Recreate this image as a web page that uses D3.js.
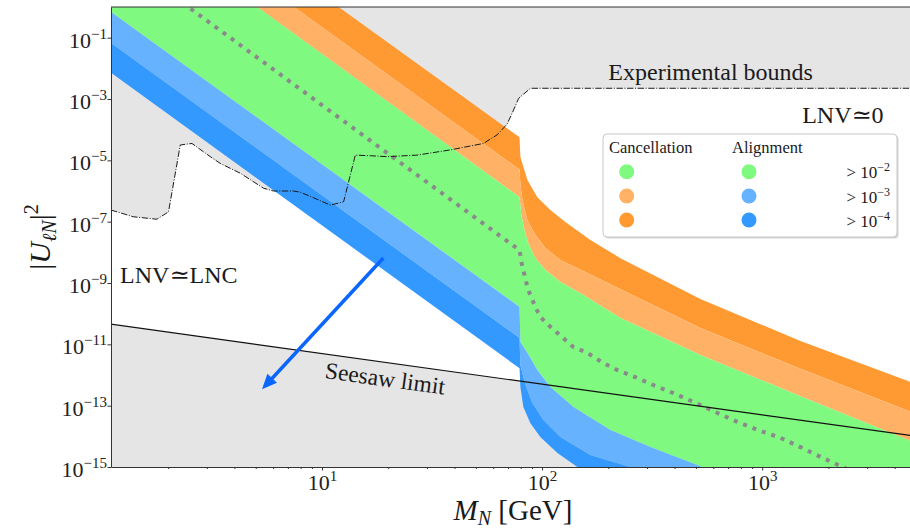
<!DOCTYPE html>
<html><head><meta charset="utf-8">
<script src="https://cdn.jsdelivr.net/npm/d3@7"></script>
<style>body{margin:0;background:#fff;} svg{display:block;}</style>
</head><body>
<svg id="chart" width="910" height="528"></svg>
<script>
// ---------- DATA (M in GeV, second value = log10 |U|^2) ----------
// band boundaries, from outer (top-right) to inner (bottom-left)
const cancel4Edge = [[1,5.56],[79,-4.25],[79.7,-4.89],[85.8,-5.64],[95.2,-6.20],[109,-6.62],[127.6,-7.01],[165.8,-7.60],[227,-8.19],[524,-9.52],[1493,-10.89],[5000,-12.29]];
const cancel3Edge = [[1,4.52],[79,-5.30],[79.7,-5.80],[81.4,-6.29],[85.8,-6.95],[93.2,-7.43],[103.5,-7.86],[121.1,-8.25],[157.3,-8.64],[227,-9.20],[524,-10.47],[1493,-11.80],[5000,-13.27]];
const cancel2Edge = [[1,3.67],[79,-6.20],[80.5,-6.78],[83.1,-7.27],[86.6,-7.70],[93.2,-8.19],[103.5,-8.58],[121.1,-8.97],[154.1,-9.39],[227,-10.14],[524,-11.35],[1493,-12.69],[5000,-14.22]];
const align2Edge  = [[1,0.05],[79,-9.78],[79.7,-10.92],[85.8,-11.28],[95.2,-11.84],[109.1,-12.39],[138.8,-13.04],[204.4,-13.79],[310.7,-14.35],[535.3,-15.0],[1493,-16.24],[5000,-17.5]];
const align3Edge  = [[1,-0.96],[79,-10.79],[79.7,-11.67],[84.0,-12.33],[90.3,-12.91],[101.4,-13.47],[121.1,-14.02],[165.8,-14.61],[252,-15.0],[524,-15.82],[5000,-18]];
const align4Edge  = [[1,-1.93],[79,-11.78],[79.7,-12.39],[82.2,-13.04],[88.5,-13.57],[98.2,-14.02],[117.4,-14.54],[144.7,-15.0],[184,-15.36],[5000,-18.5]];
// dotted central curve
const dottedCurve = [[1,2.07],[79,-7.93],[79.7,-8.09],[81.4,-8.48],[84.0,-8.84],[85.8,-9.16],[93.2,-9.78],[98.2,-10.11],[106.8,-10.37],[117.4,-10.63],[138.8,-11.09],[160.7,-11.28],[189.9,-11.61],[219.9,-11.84],[265.5,-12.07],[320.6,-12.33],[395.3,-12.59],[497.6,-12.91],[626.3,-13.24],[772.1,-13.53],[951.9,-13.79],[1211,-14.05],[1493,-14.35],[1841,-14.67],[2317,-15.0],[2799,-15.26]];
// experimental bounds
const expM = [1.10,1.388,1.778,2.008,2.270,2.566,3.107,3.450,4.253,5.427,6.026,7.429,7.968,9.159,10.91,12.54,14.17,16.58,19.75,27.03,38.30,54.10,62.45,69.34,73.06,78.26,88.5,5000];
const expU = [-6.62,-6.84,-6.92,-6.68,-4.50,-4.45,-4.88,-5.10,-5.42,-5.91,-6.0,-6.0,-6.04,-6.22,-6.46,-6.35,-4.83,-4.85,-4.88,-4.83,-4.66,-4.45,-4.17,-3.82,-3.47,-2.98,-2.65,-2.65];
// seesaw limit
const seesawM = [1, 10000];
const seesawU = [-10.30, -14.30];
// ticks
const xMajor = [10, 100, 1000];
const xMajorExp = ["1","2","3"];
const xMinor = [2,3,4,5,6,7,8,9,20,30,40,50,60,70,80,90,200,300,400,500,600,700,800,900,2000,3000,4000,5000];
const yMajor = [1e-1,1e-3,1e-5,1e-7,1e-9,1e-11,1e-13,1e-15];
const yMajorExp = ["−1","−3","−5","−7","−9","−11","−13","−15"];
// legend
const legendRows = ["−2","−3","−4"];
const cancelColors = ["#80f980","#ffb266","#ff9a33"];
const alignColors  = ["#80f980","#66b2ff","#3399ff"];

// ---------- SCALES ----------
const L=111, R=916, T=7, B=467;
const x = d3.scaleLog().domain([1.1,5000]).range([L,R]);
const y = d3.scaleLog().domain([1e-15,1]).range([B,T]);
const P = d => [x(d[0]), y(Math.pow(10,d[1]))];
const line = d3.line();
const serif = "'Liberation Serif','DejaVu Serif',serif";

const svg = d3.select("#chart");
svg.append("rect").attr("width",910).attr("height",528).attr("fill","#fff");
svg.append("defs").append("clipPath").attr("id","clip")
  .append("rect").attr("x",L).attr("y",T).attr("width",R-L).attr("height",B-T);
const g = svg.append("g").attr("clip-path","url(#clip)");

// grey excluded regions
const expPts = expM.map((m,i)=>P([m,expU[i]]));
const expPoly = [[x(1),expPts[0][1]], ...expPts, [x(9000),expPts[expPts.length-1][1]], [x(9000),y(100)], [x(1),y(100)]];
g.append("path").attr("d", line(expPoly)+"Z").attr("fill","#e5e5e5");
const ssPts = seesawM.map((m,i)=>P([m,seesawU[i]]));
g.append("path").attr("d", line([...ssPts,[x(10000),y(1e-18)],[x(1),y(1e-18)]])+"Z").attr("fill","#e5e5e5");

// bands
function band(up, lo){ return line(up.map(P).concat(lo.slice().reverse().map(P)))+"Z"; }
const bands = [
  [cancel4Edge, cancel3Edge, cancelColors[2]],
  [cancel3Edge, cancel2Edge, cancelColors[1]],
  [cancel2Edge, align2Edge, cancelColors[0]],
  [align2Edge, align3Edge, alignColors[1]],
  [align3Edge, align4Edge, alignColors[2]]
];
bands.forEach(b => g.append("path").attr("d", band(b[0], b[1])).attr("fill", b[2]));

// dotted curve
g.append("path").attr("d", line(dottedCurve.map(P))).attr("fill","none")
  .attr("stroke","#8a8a8a").attr("stroke-width",4).attr("stroke-dasharray","4,6");
// seesaw line
g.append("path").attr("d", line(ssPts)).attr("fill","none").attr("stroke","#111").attr("stroke-width",1.2);
// experimental line
g.append("path").attr("d", line(expPts)).attr("fill","none").attr("stroke","#1a1a1a")
  .attr("stroke-width",1).attr("stroke-dasharray","6.4,1.6,1,1.6");

// arrow
const a0 = P([19.0,-8.185]), a1 = P([5.34,-12.466]);
const dx=a1[0]-a0[0], dy=a1[1]-a0[1], len=Math.hypot(dx,dy), ux=dx/len, uy=dy/len;
const hl=15, hw=6.5;
svg.append("line").attr("x1",a0[0]).attr("y1",a0[1]).attr("x2",a1[0]-ux*(hl-3)).attr("y2",a1[1]-uy*(hl-3))
  .attr("stroke","#0a66ff").attr("stroke-width",3.5);
const bx=a1[0]-ux*hl, by=a1[1]-uy*hl;
svg.append("path").attr("d", line([a1,[bx-uy*hw, by+ux*hw],[bx+uy*hw, by-ux*hw]])+"Z").attr("fill","#0a66ff");

// annotations
function ann(txt, px, py, size, rot){
  const t = svg.append("text").attr("font-family",serif).attr("font-size",size).attr("fill","#1a1a1a")
    .attr("transform",`translate(${px},${py})`+(rot?` rotate(${rot})`:"")).text(txt);
  return t;
}
ann("Experimental bounds", x(200), y(Math.pow(10,-2.38)), 24);
ann("LNV≃0", x(1520), y(Math.pow(10,-3.79)), 24);
ann("LNV≃LNC", x(1.21), y(Math.pow(10,-9.01)), 24);
ann("Seesaw limit", x(10.24), y(Math.pow(10,-12.10)), 23.5, 7.9);

// axes
const axCol = "#333";
const gx = svg.append("g").attr("transform",`translate(0,${B})`)
  .call(d3.axisBottom(x).tickValues(xMajor).tickSize(3.5).tickSizeOuter(0).tickFormat(""));
svg.append("g").attr("transform",`translate(0,${B})`)
  .call(d3.axisBottom(x).tickValues(xMinor).tickSize(2).tickSizeOuter(0).tickFormat(""))
  .call(s=>s.select(".domain").remove());
const gy = svg.append("g").attr("transform",`translate(${L},0)`)
  .call(d3.axisLeft(y).tickValues(yMajor).tickSize(3.5).tickSizeOuter(0).tickFormat(""));
svg.selectAll(".domain").attr("stroke",axCol);
svg.selectAll(".tick line").attr("stroke",axCol);
svg.append("line").attr("x1",L).attr("x2",R).attr("y1",T).attr("y2",T).attr("stroke",axCol);

gx.selectAll(".tick").each(function(d,i){
  const t = d3.select(this).append("text").attr("y",23).attr("text-anchor","middle")
    .attr("font-family",serif).attr("font-size",22).attr("fill","#222");
  t.append("tspan").text("10");
  t.append("tspan").attr("font-size",15).attr("dy",-9).text(xMajorExp[i]);
});
gy.selectAll(".tick").each(function(d,i){
  const t = d3.select(this).append("text").attr("x",-4).attr("y",9.4).attr("text-anchor","end")
    .attr("font-family",serif).attr("font-size",22).attr("fill","#222");
  t.append("tspan").text("10");
  t.append("tspan").attr("font-size",15).attr("dy",-9).text(yMajorExp[i]);
});

// axis labels
const yl = svg.append("text").attr("transform","translate(50,237) rotate(-90)").attr("text-anchor","middle")
  .attr("font-family",serif).attr("font-size",30).attr("fill","#1a1a1a");
yl.append("tspan").text("|");
yl.append("tspan").attr("font-style","italic").text("U");
yl.append("tspan").attr("font-style","italic").attr("font-size",20).attr("dy",6).text("ℓN");
yl.append("tspan").attr("dy",-6).text("|");
yl.append("tspan").attr("font-size",20).attr("dy",-12).text("2");

const xl = svg.append("text").attr("x",513).attr("y",520).attr("text-anchor","middle")
  .attr("font-family",serif).attr("font-size",29).attr("fill","#1a1a1a");
xl.append("tspan").attr("font-style","italic").text("M");
xl.append("tspan").attr("font-style","italic").attr("font-size",20).attr("dy",5).text("N");
xl.append("tspan").attr("dy",-5).text(" [GeV]");

// legend
const lg = svg.append("g");
lg.append("rect").attr("x",604.5).attr("y",135.5).attr("width",294).attr("height",103).attr("rx",4).attr("fill","#d5d5d5");
lg.append("rect").attr("x",603).attr("y",134).attr("width",294).attr("height",103).attr("rx",4)
  .attr("fill","#fff").attr("stroke","#c8c8c8");
lg.append("text").attr("x",609).attr("y",153.3).attr("font-family",serif).attr("font-size",16.5).attr("fill","#1a1a1a").text("Cancellation");
lg.append("text").attr("x",732).attr("y",153.3).attr("font-family",serif).attr("font-size",16.5).attr("fill","#1a1a1a").text("Alignment");
const rowY = [171.7, 196, 220];
legendRows.forEach((e,i)=>{
  lg.append("circle").attr("cx",626.7).attr("cy",rowY[i]).attr("r",7.5).attr("fill",cancelColors[i]);
  lg.append("circle").attr("cx",749).attr("cy",rowY[i]).attr("r",7.5).attr("fill",alignColors[i]);
  const t = lg.append("text").attr("x",890).attr("y",rowY[i]+6.6).attr("text-anchor","end")
    .attr("font-family",serif).attr("font-size",17).attr("fill","#1a1a1a");
  t.append("tspan").text("> 10");
  t.append("tspan").attr("font-size",12).attr("dy",-7).text(e);
});
</script>
</body></html>
